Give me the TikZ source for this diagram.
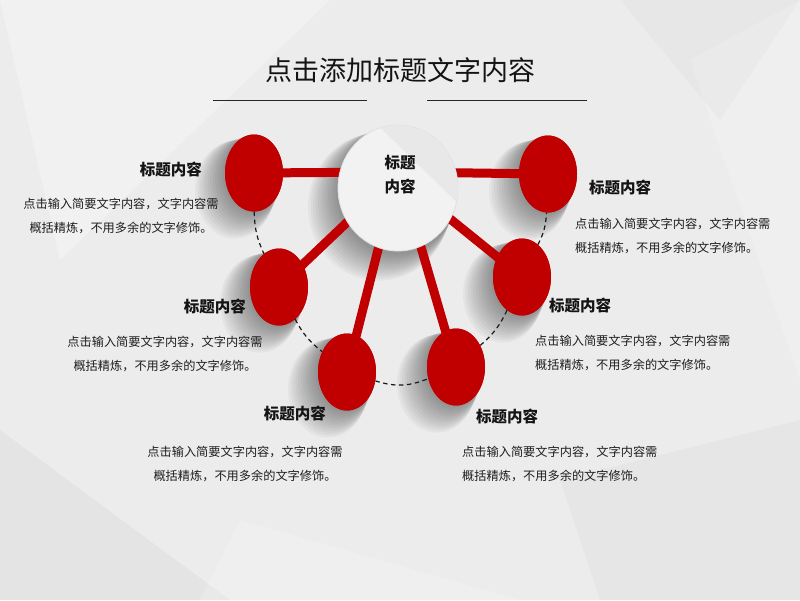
\documentclass[tikz,border=0pt]{standalone}
\usepackage{fontspec}
\newfontfamily\cjk{Noto Sans CJK SC}
\usetikzlibrary{calc,shapes.geometric}
\definecolor{myred}{HTML}{C00000}
\definecolor{bgc}{HTML}{ECECEC}
\definecolor{txt}{HTML}{1E1E1E}
\definecolor{ttl}{HTML}{141414}
\newcommand{\softshadow}[4]{%
  \foreach \i in {1,...,12}{
    \fill[black,opacity=0.035] (#1-1.6*\i,#2+1.4*\i) ellipse [x radius={#3+0.9*\i}, y radius={#4+0.9*\i}];
  }}
\begin{document}
\begin{tikzpicture}[x=1pt,y=-1pt,
  redc/.style={ellipse,fill=myred,minimum width=58pt,minimum height=77pt,inner sep=0pt},
  spoke/.style={myred,line width=9pt},
  link/.style={black!90,line width=1.2pt,dash pattern=on 4.5pt off 3.5pt},
  head/.style={font=\cjk\bfseries\fontsize{15.5}{18}\selectfont,text=ttl,inner sep=0pt},
  body/.style={font=\cjk\fontsize{12.2}{24}\selectfont,text=txt,inner sep=0pt}]
% background
\fill[bgc] (0,0) rectangle (800,600);
\useasboundingbox (0,0) rectangle (800,600);
\fill[white,opacity=0.3] (0,0) -- (330,0) -- (60,260) -- cycle;
\fill[white,opacity=0.2] (690,60) -- (800,0) -- (800,380) -- cycle;
\fill[black,opacity=0.03] (0,430) -- (230,600) -- (0,600) -- cycle;
\fill[black,opacity=0.025] (560,480) -- (800,420) -- (800,600) -- (600,600) -- cycle;
\fill[white,opacity=0.2] (240,520) -- (520,600) -- (200,600) -- cycle;
\fill[black,opacity=0.02] (620,0) -- (800,0) -- (720,120) -- cycle;
% title
\node[font=\cjk\fontsize{27}{30}\selectfont,text=ttl,inner sep=0pt] (title) at (400,70) {点击添加标题文字内容};
\draw[black!85,line width=1pt] (213,100) -- (367,100);
\draw[black!85,line width=1pt] (427,100) -- (587,100);
% shadows
\softshadow{398}{190}{60}{63}
\softshadow{254}{173}{29}{38}
\softshadow{548}{174}{29}{38}
\softshadow{279}{287}{29}{38}
\softshadow{522}{277}{29}{38}
\softshadow{347}{372}{29}{38}
\softshadow{456}{367}{29}{38}
% red nodes
\node[redc] (r1) at (254,173) {};
\node[redc] (r2) at (548,174) {};
\node[redc] (r3) at (279,287) {};
\node[redc] (r4) at (522,277) {};
\node[redc] (r5) at (347,372) {};
\node[redc] (r6) at (456,367) {};
% spoke ends inside centre
\coordinate (e1) at (398,172);
\coordinate (e2) at (398,172);
\coordinate (e3) at (360,210);
\coordinate (e4) at (428,201);
\coordinate (e5) at (383,230);
\coordinate (e6) at (416,230);
\draw[spoke] (r1.center) -- (e1);
\draw[spoke] (r2.center) -- (e2);
\draw[spoke] (r3.center) -- (e3);
\draw[spoke] (r4.center) -- (e4);
\draw[spoke] (r5.center) -- (e5);
\draw[spoke] (r6.center) -- (e6);
% redraw red nodes over spokes
\node[redc] at (r1) {};
\node[redc] at (r2) {};
\node[redc] at (r3) {};
\node[redc] at (r4) {};
\node[redc] at (r5) {};
\node[redc] at (r6) {};
% centre circle
\node[ellipse,minimum width=120pt,minimum height=126pt,inner sep=0pt,fill=white!95!black,draw=black!12,line width=0.8pt] (cc) at (398,188) {};
\begin{scope}
\clip (398,188) ellipse [x radius=59.6, y radius=62.6];
\fill[black!9] (352,100) -- (470,100) -- (470,215) -- cycle;
\end{scope}
\node[head,align=center,font=\cjk\bfseries\fontsize{15.5}{24}\selectfont] (cl) at (400,175) {标题\\内容};
% dashed links
\draw[link] (r1) to[bend right=12] (r3);
\draw[link] (r3) to[bend right=12] (r5);
\draw[link] (r5) to[bend right=20] (r6);
\draw[link] (r6) to[bend right=12] (r4);
\draw[link] (r4) to[bend right=12] (r2);
% texts
\node[head,anchor=east] (h1) at (202,170) {标题内容};
\node[body,align=center] (b1) at (121,216) {点击输入简要文字内容，文字内容需\\概括精炼，不用多余的文字修饰。};
\node[head,anchor=east] (h3) at (246,307) {标题内容};
\node[body,align=center] (b3) at (165,354) {点击输入简要文字内容，文字内容需\\概括精炼，不用多余的文字修饰。};
\node[head,anchor=east] (h5) at (326,414) {标题内容};
\node[body,align=center] (b5) at (245,464) {点击输入简要文字内容，文字内容需\\概括精炼，不用多余的文字修饰。};
\node[head,anchor=west] (h2) at (589,188) {标题内容};
\node[body,align=left,anchor=west] (b2) at (575,236) {点击输入简要文字内容，文字内容需\\概括精炼，不用多余的文字修饰。};
\node[head,anchor=west] (h4) at (549,306) {标题内容};
\node[body,align=left,anchor=west] (b4) at (535,353) {点击输入简要文字内容，文字内容需\\概括精炼，不用多余的文字修饰。};
\node[head,anchor=west] (h6) at (476,417) {标题内容};
\node[body,align=left,anchor=west] (b6) at (462,464) {点击输入简要文字内容，文字内容需\\概括精炼，不用多余的文字修饰。};
\end{tikzpicture}
\end{document}
